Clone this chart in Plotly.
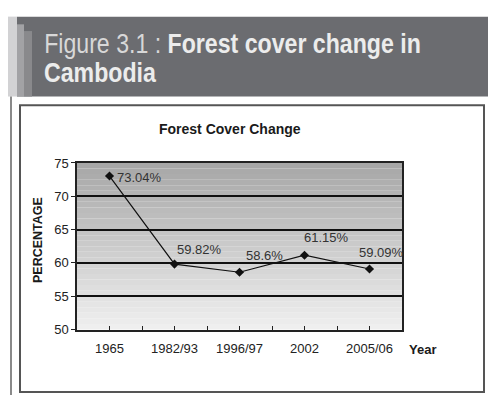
import plotly.graph_objects as go

# ---- data ----
categories = ["1965", "1982/93", "1996/97", "2002", "2005/06"]
forest_cover = [73.04, 59.82, 58.6, 61.15, 59.09]
y_ticks = [50, 55, 60, 65, 70, 75]
chart_title = "Forest Cover Change"
y_title = "PERCENTAGE"
x_title = "Year"
header_light = "Figure 3.1 : "
header_bold_1 = "Forest cover change in"
header_bold_2 = "Cambodia"

# label placement (style only): (xanchor, xshift, yshift)
label_style = [("left", 5, -1), ("left", 0, 15), ("left", 4, 17), ("left", -3, 18), ("left", -13, 16)]

W, H = 488, 403
def px(x): return x / W
def py(y): return 1 - y / H

idx = list(range(len(categories)))

fig = go.Figure()
fig.add_trace(go.Scatter(
    x=idx, y=forest_cover, mode="lines+markers",
    line=dict(color="#111111", width=1.2),
    marker=dict(symbol="diamond", size=7, color="#111111"),
    hoverinfo="skip", showlegend=False,
))

shapes = []
shapes.append(dict(type="rect", xref="paper", yref="paper", x0=px(8), x1=px(17), y0=py(93), y1=py(10),
                   fillcolor="#d2d2d4", line=dict(width=0), layer="below"))
shapes.append(dict(type="rect", xref="paper", yref="paper", x0=px(17), x1=px(488), y0=py(93), y1=py(10),
                   fillcolor="#6b6c70", line=dict(width=0), layer="below"))
shapes.append(dict(type="rect", xref="paper", yref="paper", x0=px(17), x1=px(24), y0=py(93), y1=py(18),
                   fillcolor="#a2a2a5", line=dict(width=0), layer="below"))
shapes.append(dict(type="rect", xref="paper", yref="paper", x0=px(24), x1=px(32), y0=py(93), y1=py(25),
                   fillcolor="#89898c", line=dict(width=0), layer="below"))
shapes.append(dict(type="line", xref="paper", yref="paper", x0=px(11), x1=px(11), y0=py(93), y1=py(403),
                   line=dict(color="#8a8a8a", width=2), layer="below"))
shapes.append(dict(type="rect", xref="paper", yref="paper", x0=px(20), x1=px(484), y0=py(400), y1=py(102),
                   fillcolor="white", line=dict(color="#555555", width=2), layer="below"))
n = 30
top = (166, 166, 166)
bot = (240, 240, 240)
for i in range(n):
    t = (i + 0.5) / n
    c = tuple(int(round(bot[k] + (top[k] - bot[k]) * t)) for k in range(3))
    shapes.append(dict(type="rect", xref="x domain", yref="y domain", x0=0, x1=1,
                       y0=i / n, y1=(i + 1) / n, fillcolor="rgb(%d,%d,%d)" % c,
                       line=dict(width=0), layer="below"))

annotations = []
hfont = "Liberation Sans, Arial, sans-serif"
annotations.append(dict(xref="paper", yref="paper", x=px(42), y=py(38), xanchor="left", yanchor="middle",
                        text="<span style='color:#d8d8d8'>%s</span><b>%s</b>" % (header_light, header_bold_1),
                        showarrow=False, font=dict(family=hfont, size=27, color="#ececec")))
annotations.append(dict(xref="paper", yref="paper", x=px(42), y=py(69), xanchor="left", yanchor="middle",
                        text="<b>%s</b>" % header_bold_2, showarrow=False,
                        font=dict(family=hfont, size=27, color="#ececec")))
cfont = "Liberation Sans, Arial, sans-serif"
annotations.append(dict(xref="paper", yref="paper", x=px(230), y=py(127), xanchor="center", yanchor="middle",
                        text="<b>%s</b>" % chart_title, showarrow=False,
                        font=dict(family=cfont, size=14, color="#1a1a1a")))
annotations.append(dict(xref="paper", yref="paper", x=px(38), y=py(242), xanchor="center", yanchor="middle",
                        text="<b>%s</b>" % y_title, showarrow=False, textangle=-90,
                        font=dict(family=cfont, size=12.5, color="#1a1a1a")))
annotations.append(dict(xref="paper", yref="paper", x=px(422), y=py(356), xanchor="center", yanchor="middle",
                        text="<b>%s</b>" % x_title, showarrow=False,
                        font=dict(family=cfont, size=13, color="#1a1a1a")))
for i, v in enumerate(forest_cover):
    xa, xs, ys = label_style[i]
    annotations.append(dict(x=idx[i], y=v, xref="x", yref="y", text="%s%%" % v, showarrow=False,
                            xanchor=xa, yanchor="middle", xshift=xs, yshift=ys,
                            font=dict(family=cfont, size=13, color="#333333")))

minor_vals = [i - 0.5 for i in range(len(categories) + 1)]
fig.update_layout(
    width=W, height=H, margin=dict(l=0, r=0, t=0, b=0),
    paper_bgcolor="white", plot_bgcolor="rgba(0,0,0,0)",
    shapes=shapes, annotations=annotations,
    xaxis=dict(domain=[px(77), px(402)], range=[-0.5, len(categories) - 0.5],
               tickvals=idx, ticktext=categories, ticks="inside", ticklen=4, tickwidth=1,
               tickcolor="#222", showgrid=False, zeroline=False,
               showline=True, linecolor="#222", linewidth=1.5, mirror=True,
               minor=dict(tickvals=minor_vals, ticks="inside", ticklen=4, tickcolor="#222", showgrid=False),
               ticklabelstandoff=6,
               tickfont=dict(family=cfont, size=13, color="#222")),
    yaxis=dict(domain=[py(335), py(162)], range=[50, 75], tickvals=y_ticks,
               ticks="outside", ticklen=4, tickcolor="#222",
               showgrid=True, gridcolor="#111111", gridwidth=1.5, zeroline=False,
               showline=True, linecolor="#222", linewidth=1.5, mirror=True,
               tickfont=dict(family=cfont, size=13, color="#222")),
)

# condense the header text horizontally (the original uses a condensed typeface)
post = """
var gd = document.getElementById('{plot_id}');
var first = %s, second = %s, target = 377;
var texts = gd.querySelectorAll('text.annotation-text');
var k = null;
texts.forEach(function(t){ if (t.textContent.indexOf(first) === 0) { k = target / t.getBBox().width; } });
if (k) {
  texts.forEach(function(t){
    var s = t.textContent;
    if (s.indexOf(first) === 0 || s === second) {
      var b = t.getBBox();
      t.setAttribute('transform', 'translate(' + b.x + ',0) scale(' + k + ',1) translate(' + (-b.x) + ',0)');
    }
  });
}
""" % ('"' + header_light.strip() + '"', '"' + header_bold_2 + '"')

fig.write_html("out.html", post_script=post)
